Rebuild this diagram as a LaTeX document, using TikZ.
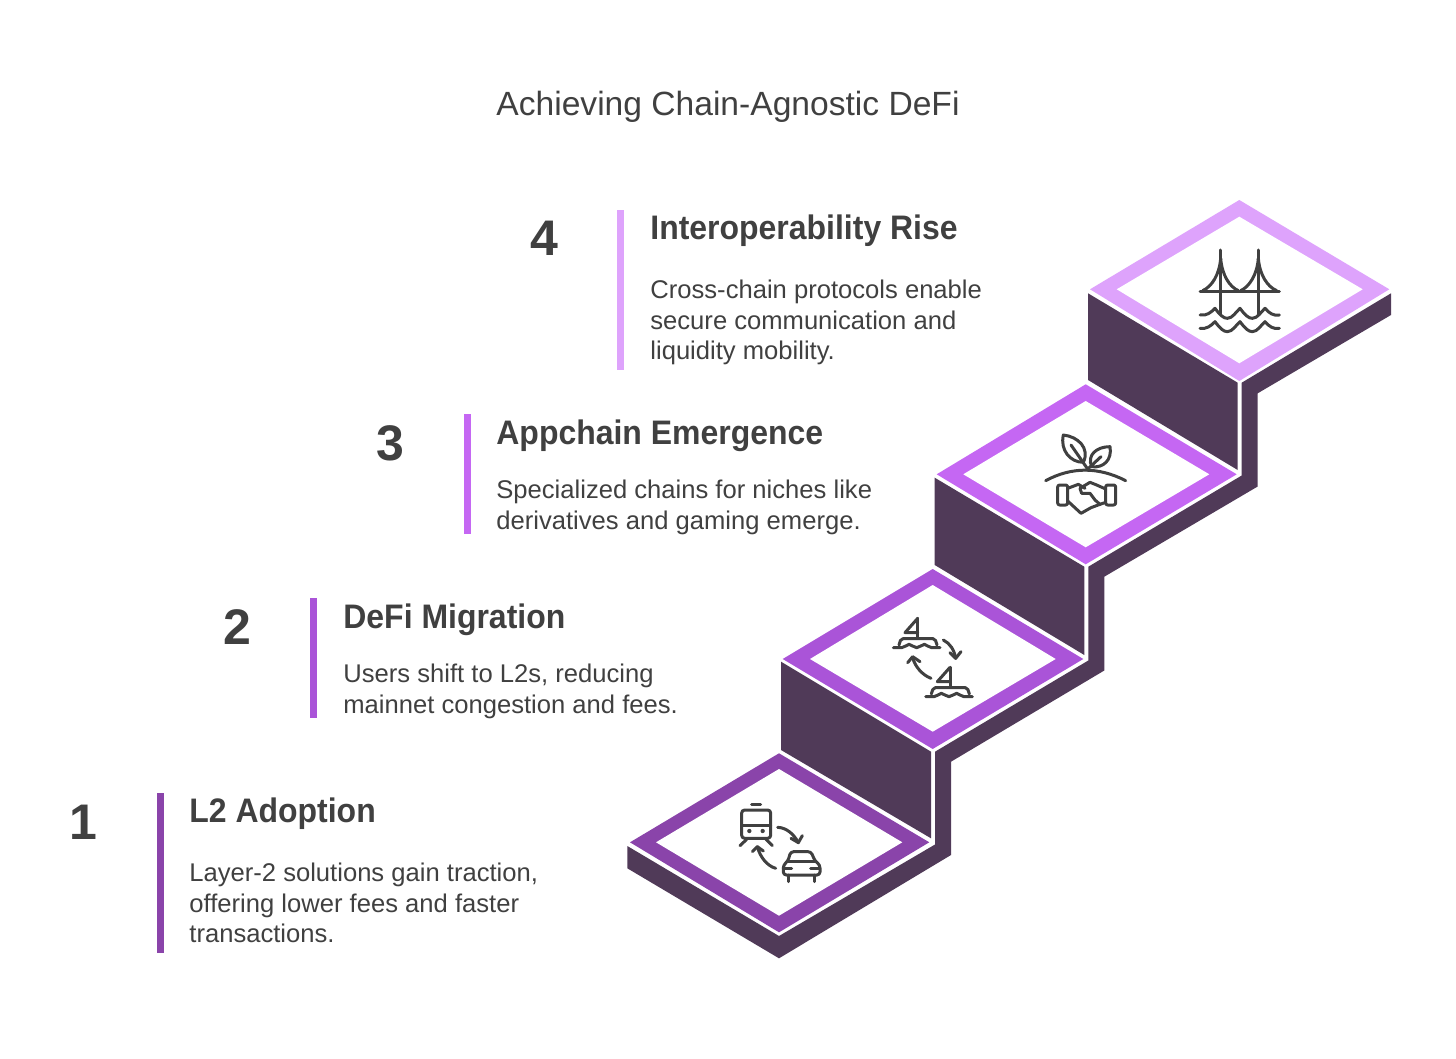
\documentclass[tikz,border=0pt]{standalone}
\usepackage{fontspec}
\setmainfont{Liberation Sans}
\newfontfamily\headfont[FakeStretch=0.94,BoldFeatures={FakeStretch=0.94}]{Liberation Sans}
\definecolor{ink}{HTML}{404040}
\definecolor{dark}{HTML}{503A58}
\definecolor{cOne}{HTML}{8A44AA}
\definecolor{cTwo}{HTML}{AA54D8}
\definecolor{cThree}{HTML}{C567F3}
\definecolor{cFour}{HTML}{DEA3FC}
\tikzset{
  titletext/.style={anchor=base,inner sep=0pt,text=ink,font=\fontsize{16.8}{20}\selectfont},
  numtext/.style={anchor=base,inner sep=0pt,text=ink,font=\fontsize{25}{30}\bfseries\selectfont},
  headtext/.style={anchor=base west,inner sep=0pt,text=ink,font=\headfont\fontsize{17}{20}\bfseries\selectfont},
  bodytext/.style={anchor=north west,inner sep=0pt,align=left,text=ink,font=\fontsize{12.8}{15.25}\selectfont},
  bar/.style={fill=#1,draw=none},
  face/.style={fill=dark,draw=none},
  rim/.style={fill=#1,draw=none},
  inner/.style={fill=white,draw=none},
  ico/.style={draw=ink,line width=1.5pt,line cap=round,line join=round,fill=none}
}
\begin{document}
\begin{tikzpicture}[x=0.5pt,y=-0.5pt]
\useasboundingbox (0,0) rectangle (1456,1059);
\fill[white] (0,0) rectangle (1456,1059);
% title
\node[titletext] (title) at (728,116) {Achieving Chain-Agnostic DeFi};
% accent bars
\fill[bar=cFour] (617,210) rectangle (624,370);
\fill[bar=cThree] (464,414) rectangle (470.5,534);
\fill[bar=cTwo] (310,598) rectangle (317,718);
\fill[bar=cOne] (157,793) rectangle (164,953);
% numbers
\node[numtext] (n4) at (544,255.5) {4};
\node[numtext] (n3) at (390,460) {3};
\node[numtext] (n2) at (237,644) {2};
\node[numtext] (n1) at (83,839) {1};
% headings
\node[headtext] (h4) at (650,240) {Interoperability Rise};
\node[headtext] (h3) at (496,444) {Appchain Emergence};
\node[headtext] (h2) at (343,628) {DeFi Migration};
\node[headtext] (h1) at (189,822) {L2 Adoption};
% bodies
\node[bodytext] (b4) at (650,280) {Cross-chain protocols enable\\secure communication and\\liquidity mobility.};
\node[bodytext] (b3) at (496,480) {Specialized chains for niches like\\derivatives and gaming emerge.};
\node[bodytext] (b2) at (343,664) {Users shift to L2s, reducing\\mainnet congestion and fees.};
\node[bodytext] (b1) at (189,863) {Layer-2 solutions gain traction,\\offering lower fees and faster\\transactions.};
% dark faces
\fill[face] (1088,293.3) -- (1237.7,382.7) -- (1237.7,470) -- (1088,380) -- cycle;
\fill[face] (934.7,477.7) -- (1084.3,566.7) -- (1084.3,655) -- (934.7,565) -- cycle;
\fill[face] (781,661.7) -- (931,751.7) -- (931,838.3) -- (781,750) -- cycle;
\fill[face] (1241.7,382.7) -- (1391,293.3) -- (1391,315) -- (1257.7,393.3) -- (1257.7,486.5)
  -- (1104.3,576.7) -- (1104.3,670.5) -- (951,761.7) -- (951,855) -- (779,958.3)
  -- (627.3,868.3) -- (627.3,846) -- (779,936) -- (935,844.5) -- (935,751.7)
  -- (1088.3,660.5) -- (1088.3,566.7) -- (1241.7,475.5) -- cycle;
% steps
\fill[rim=cFour] (1239.3,200) -- (1389.3,289.3) -- (1239.3,381) -- (1090,289.3) -- cycle;
\fill[inner] (1239.3,216.7) -- (1362.7,289.3) -- (1239.3,363.3) -- (1116.7,289.3) -- cycle;
\fill[rim=cThree] (1085.7,384.3) -- (1236.7,474.3) -- (1085.7,564.3) -- (936.7,474.3) -- cycle;
\fill[inner] (1085.7,401) -- (1209.3,474.3) -- (1085.7,547.3) -- (963.3,474.3) -- cycle;
\fill[rim=cTwo] (932.7,569) -- (1083.3,659) -- (932.7,749) -- (782.7,659) -- cycle;
\fill[inner] (932.7,585) -- (1055.7,659) -- (932.7,731.7) -- (810,659) -- cycle;
\fill[rim=cOne] (779,753.3) -- (929.3,842.3) -- (779,932.3) -- (630,842.3) -- cycle;
\fill[inner] (779,769) -- (902.3,842.3) -- (779,915.7) -- (656,842.3) -- cycle;
% bridge icon
\begin{scope}[shift={(1190,240)},scale=1/3]
\draw[ico] (30,155) -- (268,155);
\draw[ico] (92,30) -- (92,222);
\draw[ico] (205,30) -- (205,222);
\draw[ico] (92,55) .. controls (88,105) and (65,140) .. (38,152);
\draw[ico] (92,55) .. controls (96,105) and (118,140) .. (145,152);
\draw[ico] (205,55) .. controls (201,105) and (178,140) .. (152,152);
\draw[ico] (205,55) .. controls (209,105) and (232,140) .. (260,152);
\draw[ico] (30,225) .. controls (50,228) and (62,218) .. (75,205) .. controls (90,225) and (100,235) .. (112,235) .. controls (128,235) and (138,215) .. (150,205) .. controls (165,225) and (175,235) .. (187,235) .. controls (203,235) and (213,215) .. (225,205) .. controls (238,220) and (250,228) .. (268,225);
\draw[ico] (30,265) .. controls (50,268) and (62,258) .. (75,245) .. controls (90,265) and (100,275) .. (112,275) .. controls (128,275) and (138,255) .. (150,245) .. controls (165,265) and (175,275) .. (187,275) .. controls (203,275) and (213,255) .. (225,245) .. controls (238,260) and (250,268) .. (268,265);
\end{scope}
% plant and handshake icon
\begin{scope}[shift={(1035,425)},scale=1/3]
\draw[ico] (32,167) .. controls (110,125) and (190,125) .. (272,167);
\draw[ico] (85,30) .. controls (130,35) and (165,70) .. (145,112) .. controls (105,112) and (75,75) .. (85,30) -- cycle;
\draw[ico] (108,60) -- (160,135);
\draw[ico] (225,65) .. controls (185,65) and (155,90) .. (170,125) .. controls (205,130) and (232,105) .. (225,65) -- cycle;
\draw[ico] (198,95) -- (155,135);
\draw[ico,rounded corners=1pt] (68,180) rectangle (98,240);
\draw[ico,rounded corners=1pt] (212,180) rectangle (242,240);
\draw[ico] (98,190) -- (130,178) -- (150,190);
\draw[ico] (212,192) -- (185,180) -- (165,172) -- (135,190) -- (140,205) -- (165,205) -- (180,225) -- (195,238);
\draw[ico] (98,228) -- (138,265) -- (168,248) -- (195,238) -- (212,232);
\end{scope}
% boats icon
\begin{scope}[shift={(885,610)},scale=1/3]
\foreach \dx/\dy in {0/0,97/147}{
\begin{scope}[shift={(\dx,\dy)}]
\draw[ico] (98,25) -- (98,85);
\draw[ico] (98,25) -- (60,68) -- (98,68);
\draw[ico,rounded corners=1pt] (42,105) -- (48,86) -- (150,86) -- (156,105);
\draw[ico] (25,113) -- (50,113) .. controls (60,113) and (65,103) .. (72,103) .. controls (80,103) and (85,113) .. (95,113) .. controls (105,113) and (110,103) .. (118,103) .. controls (125,103) and (130,113) .. (140,113) -- (165,113);
\end{scope}}
\draw[ico] (175,90) .. controls (195,100) and (208,120) .. (212,145);
\draw[ico] (195,128) -- (212,145) -- (228,125);
\draw[ico] (138,205) .. controls (112,195) and (90,170) .. (83,143);
\draw[ico] (68,158) -- (83,140) -- (105,155);
\end{scope}
% train and car icon
\begin{scope}[shift={(730,795)},scale=1/3]
\draw[ico] (65,27) -- (92,27);
\draw[ico,rounded corners=1.5pt] (35,45) rectangle (122,130);
\draw[ico] (35,90) -- (122,90);
\fill[ink] (58,108) circle (6.5);
\fill[ink] (98,108) circle (6.5);
\draw[ico] (50,133) -- (30,152);
\draw[ico] (108,133) -- (127,152);
\draw[ico] (143,97) .. controls (170,98) and (192,118) .. (205,143);
\draw[ico] (183,130) -- (205,143) -- (217,122);
\draw[ico] (137,220) .. controls (110,212) and (90,185) .. (82,155);
\draw[ico] (67,170) -- (82,155) -- (100,168);
\draw[ico,rounded corners=1.5pt] (160,240) -- (160,210) -- (174,198) -- (182,170) -- (243,170) -- (255,198) -- (270,210) -- (270,240) -- cycle;
\draw[ico] (174,198) -- (255,198);
\draw[ico] (160,220) -- (185,220);
\draw[ico] (242,220) -- (268,220);
\draw[ico] (175,240) -- (175,260);
\draw[ico] (252,240) -- (252,260);
\end{scope}
\end{tikzpicture}
\end{document}
